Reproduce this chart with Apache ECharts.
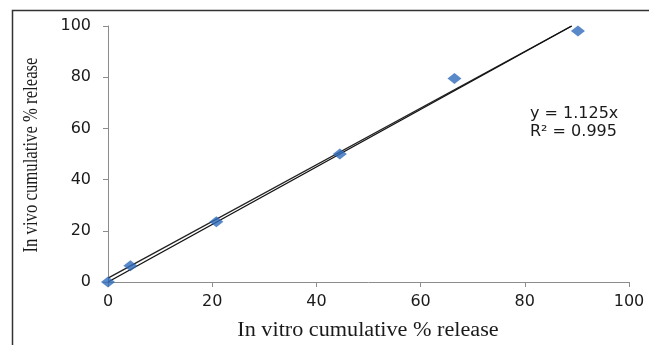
<!DOCTYPE html>
<html>
<head>
<meta charset="utf-8">
<script src="https://cdn.jsdelivr.net/npm/echarts@6/dist/echarts.min.js"></script>
<style>
  html, body { margin: 0; padding: 0; background: #fff; }
  #chart { width: 649px; height: 345px; }
</style>
</head>
<body>
<div id="chart"></div>
<script>
// observed release values
const inVitro = [0, 4.3, 20.8, 44.5, 66.5, 90.2];
const inVivo = [0, 6.3, 23.5, 50, 79.5, 98];

// trendline endpoints (y = 1.125x) plus the slightly offset companion line
const trendX = [0, 89];
const trendY = [0, 100];
const trend2X = [0, 89];
const trend2Y = [1.5, 100];

const xTicks = [0, 20, 40, 60, 80, 100];
const yTicks = [0, 20, 40, 60, 80, 100];

const xTitle = 'In vitro cumulative % release';
const yTitle = 'In vivo cumulative % release';

const chart = echarts.init(document.getElementById('chart'));

const axisCommon = {
  type: 'value',
  min: 0,
  max: 100,
  interval: 20,
  axisLine: { show: true, lineStyle: { color: '#8c8c8c', width: 1 } },
  axisTick: { show: true, length: 5, lineStyle: { color: '#8c8c8c' } },
  splitLine: { show: false },
  axisLabel: {
    fontFamily: 'DejaVu Sans, sans-serif',
    fontSize: 16,
    color: '#1a1a1a',
    margin: 12
  }
};

chart.setOption({
  animation: false,
  grid: { left: 108, right: 20, top: 26, bottom: 63, outerBoundsMode: 'none' },
  xAxis: Object.assign({}, axisCommon, {
    axisLabel: Object.assign({}, axisCommon.axisLabel, {
      formatter: v => (xTicks.includes(v) ? String(v) : '')
    })
  }),
  yAxis: Object.assign({}, axisCommon, {
    axisLabel: Object.assign({}, axisCommon.axisLabel, {
      margin: 17,
      formatter: v => (yTicks.includes(v) ? String(v) : '')
    })
  }),
  graphic: [
    {
      type: 'rect',
      shape: { x: 12.5, y: 10.5, width: 700, height: 400 },
      style: { fill: 'none', stroke: '#333', lineWidth: 1.5 },
      silent: true
    },
    {
      type: 'text',
      left: 530,
      top: 105,
      style: {
        text: 'y = 1.125x\nR² = 0.995',
        font: '16px DejaVu Sans, sans-serif',
        fill: '#1a1a1a',
        lineHeight: 18
      }
    },
    // axis titles: the source image is stretched sideways, so the titles are scaled
    {
      type: 'text',
      x: 368,
      y: 331,
      scaleX: 1.11,
      style: {
        text: xTitle,
        font: '20px Liberation Serif, serif',
        fill: '#1a1a1a',
        align: 'center',
        verticalAlign: 'middle'
      }
    },
    {
      type: 'text',
      x: 31,
      y: 155,
      rotation: Math.PI / 2,
      scaleX: 0.76,
      style: {
        text: yTitle,
        font: '22px Liberation Serif, serif',
        fill: '#1a1a1a',
        align: 'center',
        verticalAlign: 'middle'
      }
    }
  ],
  series: [
    {
      type: 'line',
      data: trend2X.map((x, i) => [x, trend2Y[i]]),
      symbol: 'none',
      lineStyle: { color: '#222', width: 1.3 },
      z: 2
    },
    {
      type: 'line',
      data: trendX.map((x, i) => [x, trendY[i]]),
      symbol: 'none',
      lineStyle: { color: '#111', width: 1.4 },
      z: 2
    },
    {
      type: 'scatter',
      data: inVitro.map((x, i) => [x, inVivo[i]]),
      symbol: 'diamond',
      symbolSize: [14, 11],
      itemStyle: { color: '#2f6cba' },
      z: 3
    }
  ]
});
</script>
</body>
</html>
